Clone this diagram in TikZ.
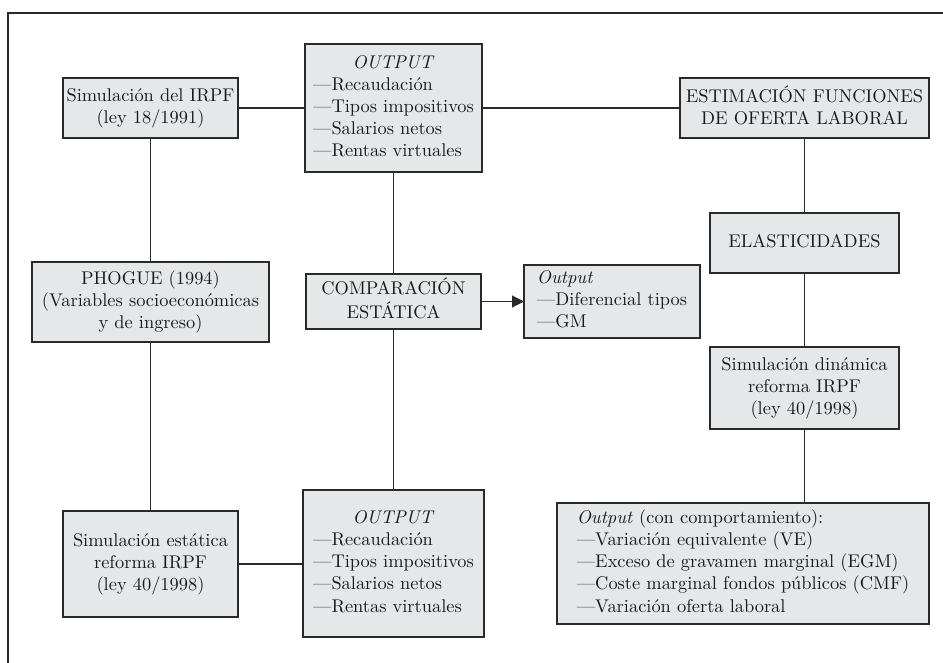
\documentclass[tikz,border=0pt]{standalone}
\usetikzlibrary{arrows.meta}
\definecolor{boxfill}{HTML}{E6E7E8}
\definecolor{linec}{HTML}{2A2A2A}
\definecolor{txt}{HTML}{1A1A1A}
\newcommand\dgsc{1.84}
\newcommand\dgc[1]{\scalebox{\dgsc}{\begin{tabular}{@{}c@{}}#1\end{tabular}}}
\newcommand\dgl[1]{\scalebox{\dgsc}{\begin{tabular}{@{}l@{}}#1\end{tabular}}}
\tikzset{
  box/.style={draw=linec, fill=boxfill, line width=1.3pt, inner sep=0pt, outer sep=0pt, align=center, text=txt, font=\fontsize{10}{12}\selectfont},
  link/.style={draw=linec, line width=1.1pt},
  frameline/.style={draw=linec, line width=1.2pt}
}
\begin{document}
\begin{tikzpicture}[x=1pt,y=1pt]
\useasboundingbox (0,0) rectangle (943,-663);
\draw[frameline] (8,-663) -- (8,-13) -- (943,-13);

\node[box, minimum width=175, minimum height=60] (simA) at (150.5,-108) {\dgc{Simulación del IRPF\\(ley 18/1991)}};
\node[box, minimum width=177, minimum height=128] (outA) at (393.5,-108) {\dgl{\multicolumn{1}{@{}c@{}}{\textit{OUTPUT}}\\---Recaudación\\---Tipos impositivos\\---Salarios netos\\---Rentas virtuales}};
\node[box, minimum width=249, minimum height=60] (est) at (804.5,-108) {\dgc{ESTIMACIÓN FUNCIONES\\DE OFERTA LABORAL}};
\node[box, minimum width=189, minimum height=60] (elas) at (804.5,-243) {\dgc{ELASTICIDADES}};
\node[box, minimum width=189, minimum height=82] (dyn) at (804.5,-388) {\dgc{Simulación dinámica\\reforma IRPF\\(ley 40/1998)}};
\node[box, minimum width=372, minimum height=121] (outC) at (743,-563.5) {\dgl{\textit{Output} (con comportamiento):\\---Variación equivalente (VE)\\---Exceso de gravamen marginal (EGM)\\---Coste marginal fondos públicos (CMF)\\---Variación oferta laboral}};
\node[box, minimum width=237, minimum height=80] (phogue) at (150.5,-302) {\dgc{PHOGUE (1994)\\(Variables socioeconómicas\\y de ingreso)}};
\node[box, minimum width=175, minimum height=55] (comp) at (393.5,-301.5) {\dgc{COMPARACIÓN\\ESTÁTICA}};
\node[box, minimum width=176, minimum height=73] (outB) at (612,-301.5) {\dgl{\textit{Output}\\---Diferencial tipos\\---GM}};
\node[box, minimum width=175, minimum height=106] (simE) at (150.5,-564) {\dgc{Simulación estática\\reforma IRPF\\(ley 40/1998)}};
\node[box, minimum width=181, minimum height=147] (outD) at (393.5,-563.5) {\dgl{\multicolumn{1}{@{}c@{}}{\textit{OUTPUT}}\\---Recaudación\\---Tipos impositivos\\---Salarios netos\\---Rentas virtuales}};

\draw[link] (simA.east) -- (outA.west);
\draw[link] (outA.east) -- (est.west);
\draw[link] (est.south) -- (elas.north);
\draw[link] (elas.south) -- (dyn.north);
\draw[link] (dyn.south) -- (dyn.south |- outC.north);
\draw[link] (simA.south) -- (phogue.north);
\draw[link] (phogue.south) -- (simE.north);
\draw[link] (outA.south) -- (comp.north);
\draw[link] (comp.south) -- (outD.north);
\draw[link] (simE.east) -- (simE.east -| outD.west);
\draw[link, -{Triangle[length=12pt,width=12pt]}] (comp.east) -- (outB.west);
\end{tikzpicture}
\end{document}
